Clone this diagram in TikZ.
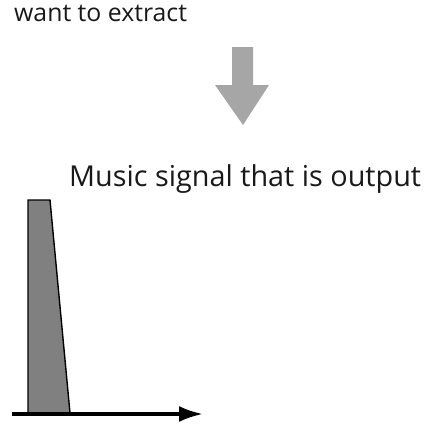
\documentclass[tikz,border=0pt]{standalone}
\usepackage{fontspec}
\setmainfont{Open Sans}
\usetikzlibrary{arrows.meta,positioning}

\begin{document}
\begin{tikzpicture}[
    x=1pt, y=-1pt,
    label/.style={anchor=base west, inner sep=0pt, text=black!90},
    flow/.style={fill=black!35, draw=none},
    pulse/.style={fill=black!50, draw=black, line width=1.4pt, line join=miter},
    axis/.style={line width=3.4pt, -{Latex[length=24pt, width=16pt]}}
]
    \useasboundingbox (0,0) rectangle (428,426);

    % Texts
    \node[label, font=\fontsize{24.8}{28}\selectfont] (extract) at (14,21) {want to extract};
    \node[label, font=\fontsize{28.8}{33}\selectfont] (output) at (69,186) {Music signal that is output};

    % Gray arrow
    \fill[flow] (232,47) -- (253,47) -- (253,85) -- (269,85) -- (243,125)
        -- (215,85) -- (232,85) -- cycle;

    % Output signal
    \filldraw[pulse] (28,413) -- (28,200) -- (50,200) -- (70,413) -- cycle;

    % Time axis
    \coordinate (origin) at (12,414);
    \coordinate (tend) at (203,414);
    \draw[axis] (origin) -- (tend);
\end{tikzpicture}
\end{document}
